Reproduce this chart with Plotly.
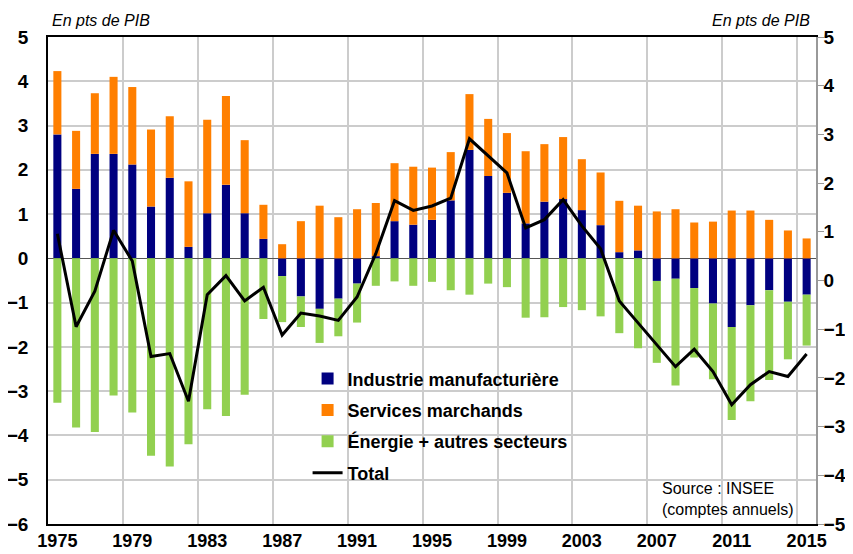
import plotly.graph_objects as go

years = [str(y) for y in range(1975, 2016)]

industrie = [2.80, 1.57, 2.36, 2.36, 2.12, 1.17, 1.82, 0.26, 1.02, 1.66,
             1.02, 0.44, -0.40, -0.86, -1.14, -0.91, -0.57, 0.05, 0.84, 0.76,
             0.87, 1.31, 2.45, 1.86, 1.48, 0.79, 1.28, 1.34, 1.09, 0.75,
             0.14, 0.18, -0.51, -0.46, -0.67, -1.02, -1.55, -1.06, -0.72, -0.98,
             -0.82]

services = [1.43, 1.31, 1.37, 1.74, 1.75, 1.74, 1.39, 1.48, 2.11, 2.01,
            1.65, 0.77, 0.32, 0.84, 1.19, 0.93, 1.11, 1.20, 1.31, 1.31,
            1.18, 1.09, 1.26, 1.29, 1.35, 1.63, 1.30, 1.40, 1.15, 1.19,
            1.16, 1.01, 1.06, 1.11, 0.81, 0.83, 1.08, 1.08, 0.87, 0.63,
            0.45]

energie = [-3.26, -3.82, -3.92, -3.10, -3.48, -4.46, -4.70, -4.20, -3.41, -3.56,
           -3.08, -1.37, -1.04, -0.69, -0.77, -0.85, -0.88, -0.62, -0.52, -0.62,
           -0.53, -0.72, -0.82, -0.57, -0.65, -1.34, -1.33, -1.10, -1.17, -1.31,
           -1.69, -2.03, -1.85, -2.41, -1.57, -1.71, -2.10, -2.17, -2.03, -1.30,
           -1.15]

total = [0.96, -0.95, -0.22, 1.03, 0.40, -1.56, -1.50, -2.48, -0.29, 0.10,
         -0.42, -0.14, -1.12, -0.67, -0.73, -0.82, -0.34, 0.55, 1.64, 1.44,
         1.53, 1.69, 2.91, 2.57, 2.21, 1.08, 1.25, 1.66, 1.12, 0.65,
         -0.42, -0.87, -1.32, -1.77, -1.41, -1.87, -2.55, -2.14, -1.87, -1.97,
         -1.51]

FONT = "Liberation Sans, Arial, sans-serif"
GRID = "#cccccc"
TICKFONT = dict(size=19, weight="bold", family=FONT, color="black")

fig = go.Figure()
fig.add_trace(go.Bar(x=years, y=industrie, name="Industrie manufacturière",
                     marker=dict(color="#000080", line=dict(width=0)),
                     legendgroup="a"))
fig.add_trace(go.Bar(x=years, y=services, name="Services marchands",
                     marker=dict(color="#FF7F00", line=dict(width=0)),
                     legendgroup="b"))
fig.add_trace(go.Bar(x=years, y=energie, name="Énergie + autres secteurs",
                     marker=dict(color="#92D050", line=dict(width=0)),
                     legendgroup="c"))
fig.add_trace(go.Scatter(x=years, y=total, name="Total", mode="lines",
                         line=dict(color="black", width=3), yaxis="y2",
                         legendgroup="d"))

# page body has an 8px margin: figure is 8px smaller so it fits the 853x554 window
fig.update_layout(
    template="none",
    width=845, height=546,
    margin=dict(l=40, r=37, t=29, b=30, autoexpand=False),
    paper_bgcolor="white", plot_bgcolor="white",
    barmode="relative", bargap=0.57,
    font=dict(family=FONT, color="black"),
    xaxis=dict(type="category", tickmode="linear", tick0=0, dtick=4,
               tickson="boundaries", showgrid=True, gridcolor=GRID, gridwidth=1.5,
               showline=True, linecolor="black", linewidth=1.5, mirror=True,
               ticks="", tickangle=0, automargin=False, ticklabelstandoff=0,
               tickfont=dict(size=18, weight="bold", family=FONT, color="black")),
    yaxis=dict(range=[-6, 5], dtick=1, showgrid=True, gridcolor=GRID, gridwidth=1.5,
               zeroline=True, zerolinecolor="#555555", zerolinewidth=1.2,
               showline=True, linecolor="black", linewidth=1.5, ticks="",
               automargin=False, ticklabelstandoff=14, tickfont=TICKFONT),
    yaxis2=dict(range=[-5, 5], dtick=1, overlaying="y", side="right",
                showgrid=False, zeroline=False, showline=True, linecolor="#999999",
                linewidth=1.5, ticks="outside", ticklen=6, tickcolor="#999999",
                automargin=False, ticklabelstandoff=-4, tickfont=TICKFONT),
    showlegend=True,
    legend=dict(x=0.338, y=0.336, xanchor="left", yanchor="top",
                bgcolor="rgba(0,0,0,0)", traceorder="grouped", tracegroupgap=5,
                font=dict(size=18, weight="bold", family=FONT)),
    annotations=[
        dict(text="<i>En pts de PIB</i>", xref="paper", yref="paper", x=0.003, y=1.0,
             xanchor="left", yanchor="bottom", yshift=6, showarrow=False,
             font=dict(size=16, family=FONT)),
        dict(text="<i>En pts de PIB</i>", xref="paper", yref="paper", x=0.995, y=1.0,
             xanchor="right", yanchor="bottom", yshift=6, showarrow=False,
             font=dict(size=16, family=FONT)),
        dict(text="Source : INSEE<br>(comptes annuels)", xref="paper", yref="paper",
             x=0.797, y=0.095, xanchor="left", yanchor="top", align="left",
             showarrow=False, font=dict(size=16, family=FONT)),
    ],
)

fig.write_html("out.html")
